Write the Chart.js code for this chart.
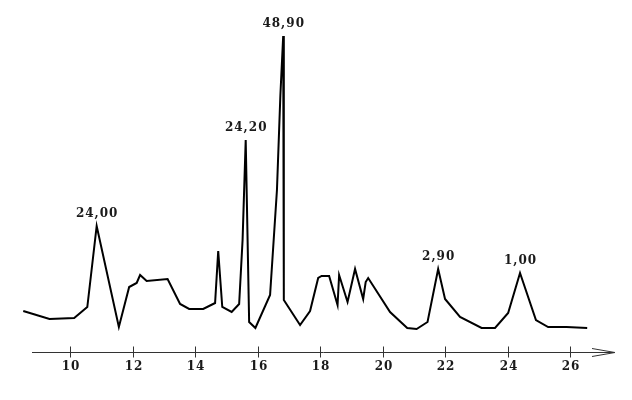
<!DOCTYPE html>
<html>
<head>
<meta charset="utf-8">
<script src="https://cdn.jsdelivr.net/npm/chart.js@4/dist/chart.umd.min.js"></script>
<style>
  html, body { margin: 0; padding: 0; background: #fff; }
  canvas { display: block; }
</style>
</head>
<body>
<canvas id="trace" width="632" height="400"></canvas>
<script>
// x positions (axis units) and heights of the trace
const xValues = [8.49, 9.33, 10.12, 10.54, 10.84, 11.55, 11.88, 12.12, 12.23, 12.44,
  13.11, 13.51, 13.80, 14.25, 14.63, 14.73, 14.86, 15.16, 15.40, 15.51,
  15.61, 15.72, 15.92, 16.39, 16.61, 16.72, 16.81, 16.83, 17.35, 17.67,
  17.93, 18.04, 18.28, 18.55, 18.60, 18.87, 19.11, 19.37, 19.45, 19.53,
  20.23, 20.78, 21.08, 21.43, 21.77, 21.99, 22.47, 23.16, 23.59, 24.01,
  24.39, 24.90, 25.29, 25.88, 26.54];
const yValues = [41, 33, 34, 45, 126, 25, 65, 69, 77, 71,
  73, 48, 43, 43, 49, 101, 45, 40, 48, 112,
  212, 30, 24, 57, 162, 257, 316, 52, 27, 41,
  74, 76, 76, 47, 77, 50, 83, 53, 70, 74,
  40, 24, 23, 30, 83, 53, 35, 24, 24, 39,
  79, 32, 25, 25, 24];

const tickValues = [10, 12, 14, 16, 18, 20, 22, 24, 26];

// labelled peaks: index into the trace and the text written above it
const peakIndex = [4, 20, 26, 44, 50];
const peakLabels = ['24,00', '24,20', '48,90', '2,90', '1,00'];

const textFont = 'bold 12px "DejaVu Serif", "Liberation Serif", serif';

// draws the arrowed x axis, ticks and peak captions using the chart scales
const axisPlugin = {
  id: 'axisPlugin',
  afterDraw(chart) {
    const ctx = chart.ctx;
    const xs = chart.scales.x;
    const ys = chart.scales.y;
    const area = chart.chartArea;
    const axisY = area.bottom + 0.5;
    const tipX = area.right;

    ctx.save();
    ctx.strokeStyle = '#333';
    ctx.lineWidth = 1;
    ctx.beginPath();
    ctx.moveTo(area.left, axisY);
    ctx.lineTo(tipX, axisY);
    // open arrow head
    ctx.moveTo(tipX - 23, axisY - 4);
    ctx.lineTo(tipX, axisY);
    ctx.lineTo(tipX - 23, axisY + 4);
    ctx.stroke();

    ctx.fillStyle = '#1a1a1a';
    ctx.font = textFont;
    ctx.letterSpacing = '1px';
    ctx.textAlign = 'center';
    ctx.textBaseline = 'middle';

    tickValues.forEach(v => {
      const px = Math.round(xs.getPixelForValue(v)) + 0.5;
      ctx.beginPath();
      ctx.moveTo(px, axisY - 6);
      ctx.lineTo(px, axisY + 5);
      ctx.stroke();
      ctx.fillText(String(v), px + 0.5, axisY + 14);
    });

    peakIndex.forEach((idx, i) => {
      const px = xs.getPixelForValue(xValues[idx]);
      const py = ys.getPixelForValue(yValues[idx]);
      ctx.fillText(peakLabels[i], px + 0.5, py - 12);
    });
    ctx.restore();
  }
};

new Chart(document.getElementById('trace').getContext('2d'), {
  type: 'line',
  data: {
    datasets: [{
      data: xValues.map((x, i) => ({ x: x, y: yValues[i] })),
      borderColor: '#000',
      borderWidth: 2,
      pointRadius: 0,
      tension: 0,
      fill: false,
      clip: false
    }]
  },
  options: {
    responsive: false,
    animation: false,
    layout: { padding: { left: 32, right: 17, top: 0, bottom: 48 } },
    plugins: {
      legend: { display: false },
      tooltip: { enabled: false }
    },
    scales: {
      x: { type: 'linear', min: 8.77, max: 27.43, display: false },
      y: { min: 0, max: 352, display: false }
    }
  },
  plugins: [axisPlugin]
});
</script>
</body>
</html>
